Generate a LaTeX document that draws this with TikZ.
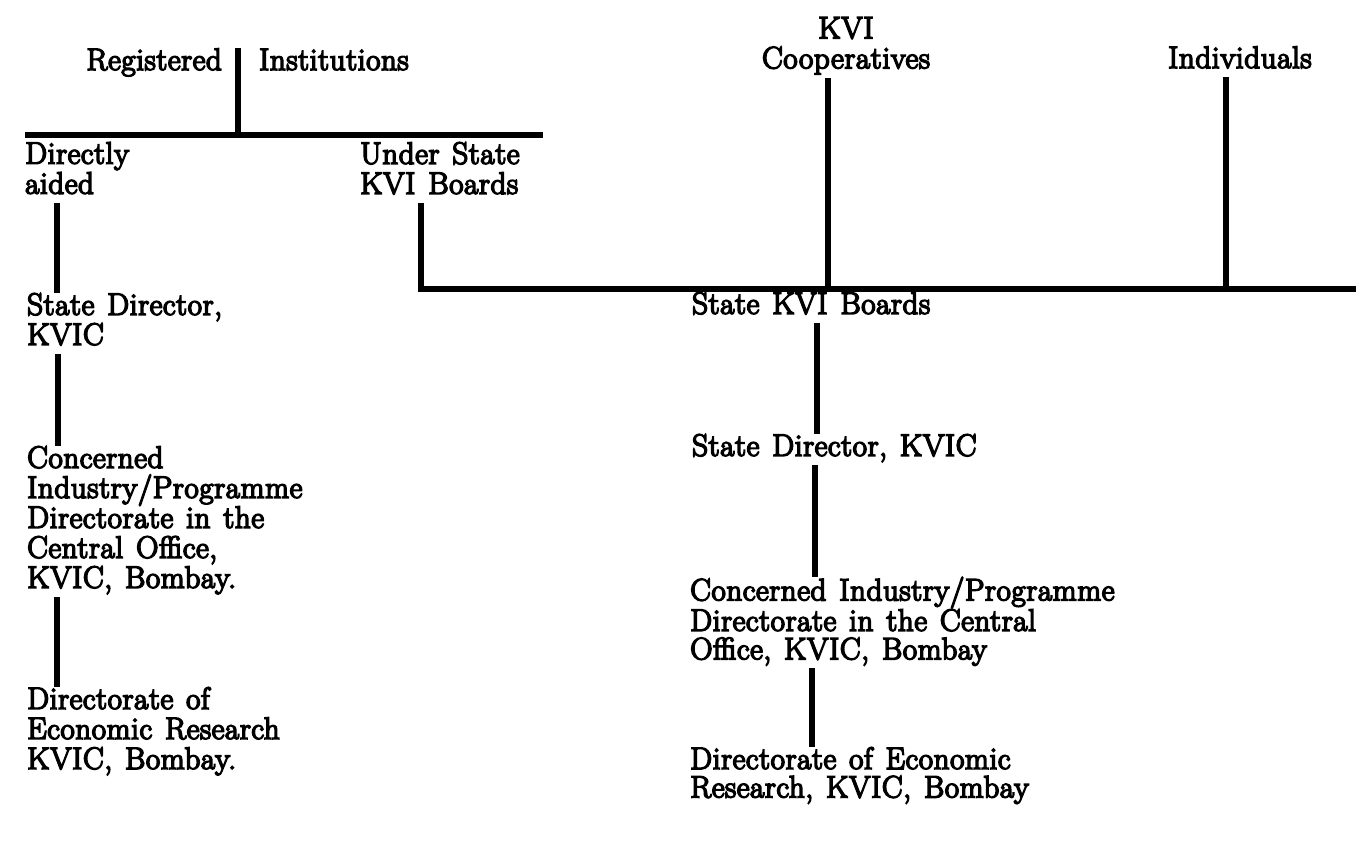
\documentclass[tikz,border=0pt]{standalone}
\usepackage{fontspec}
\setmainfont{Latin Modern Roman}[LetterSpace=2, WordSpace=1.3, FakeBold=5]
\begin{document}
\begin{tikzpicture}[x=1pt,y=-1pt,
  conn/.style={line width=5.5pt},
  lbl/.style={inner sep=0pt, font=\fontsize{31}{30}\selectfont, align=left,
    execute at begin node=\strut, execute at end node=\strut},
  lblR/.style={lbl, font=\fontsize{31}{28.5}\selectfont}]
\fill[white] (0,0) rectangle (1356,840);
\useasboundingbox (0,0) rectangle (1356,840);

% left branch
\node[lbl, anchor=base east] (reg) at (222,70) {Registered};
\node[lbl, anchor=base west] (inst) at (259,70) {Institutions};
\node[lbl, anchor=north west] (da) at (25,142) {Directly\\aided};
\node[lbl, anchor=north west] (us) at (360,142) {Under State\\KVI Boards};
\node[lbl, anchor=north west] (sd1) at (27,293) {State Director,\\KVIC};
\node[lbl, anchor=north west] (cn1) at (27,446) {Concerned\\Industry/Programme\\Directorate in the\\Central Office,\\KVIC, Bombay.};
\node[lbl, anchor=north west] (dr1) at (27,687) {Directorate of\\Economic Research\\KVIC, Bombay.};

% right branch
\node[lbl, align=center, anchor=north] (coop) at (846,17) {KVI\\Cooperatives};
\node[lbl, anchor=base west] (ind) at (1168,68) {Individuals};
\node[lbl, anchor=north west] (skb) at (692,292) {State KVI Boards};
\node[lbl, anchor=north west] (sd2) at (692,434) {State Director, KVIC};
\node[lblR, anchor=north west] (cn2) at (690,577) {Concerned Industry/Programme\\Directorate in the Central\\Office, KVIC, Bombay};
\node[lblR, anchor=north west] (dr2) at (690,747) {Directorate of Economic\\Research, KVIC, Bombay};

% junctions
\coordinate (j1) at (238,135);
\coordinate (barL) at (25,135);
\coordinate (barR) at (543,135);
\coordinate (rEnd) at (1356,289);
\coordinate (jc) at (828,289);
\coordinate (ji) at (1226,289);

% connectors
\draw[conn] (barL) -- (barR);
\draw[conn] (j1) -- (j1 |- reg.north);
\draw[conn] ([xshift=32pt]da.south west) -- ([xshift=32pt]da.south west |- sd1.north);
\draw[conn] ([xshift=31pt]sd1.south west) -- ([xshift=31pt]sd1.south west |- cn1.north);
\draw[conn] ([xshift=30pt]cn1.south west) -- ([xshift=30pt]cn1.south west |- dr1.north);

\draw[conn, line join=miter] ([xshift=61pt]us.south west) |- (rEnd);
\draw[conn] (jc |- coop.south) -- (jc);
\draw[conn] (ji |- ind.south) -- (ji);
\draw[conn] ([xshift=125pt]skb.south west) -- ([xshift=125pt]skb.south west |- sd2.north);
\draw[conn] ([xshift=123pt]sd2.south west) -- ([xshift=123pt]sd2.south west |- cn2.north);
\draw[conn] ([xshift=122pt]cn2.south west) -- ([xshift=122pt]cn2.south west |- dr2.north);
\end{tikzpicture}
\end{document}
